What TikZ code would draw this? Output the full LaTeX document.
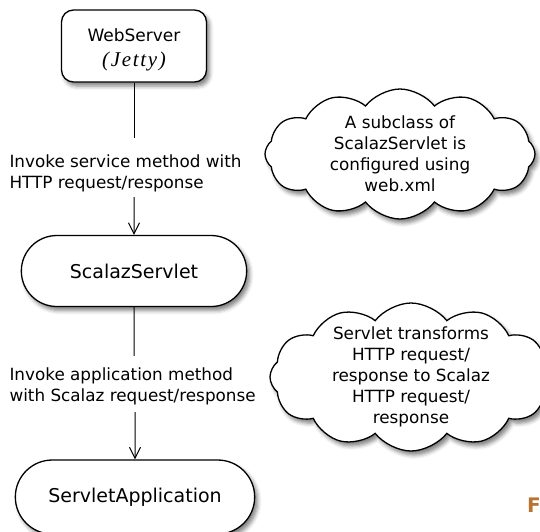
\documentclass[tikz,border=0pt]{standalone}
\usepackage{fontspec}
\setmainfont{DejaVu Sans}
\newfontfamily\jettyfont{Liberation Serif}[LetterSpace=8]
\usepackage{tikz}
\usetikzlibrary{shapes.misc,shapes.symbols,shadows.blur,arrows.meta}

\definecolor{figorange}{RGB}{184,115,51}
\tikzset{
	shadowed/.style={draw,line width=1.3pt,fill=white,
		blur shadow={shadow xshift=3pt,shadow yshift=-4pt,shadow blur radius=4pt,shadow opacity=50}},
	webbox/.style={shadowed,rounded corners=12pt,minimum width=145pt,minimum height=72pt,align=center},
	pill/.style={shadowed,rounded rectangle,font=\fontsize{19}{23}\selectfont},
	note/.style={shadowed,cloud,cloud puffs=12,cloud puff arc=105,cloud ignores aspect,
		align=center,inner sep=-30pt},
	steplabel/.style={anchor=west,align=left},
	conn/.style={line width=1pt},
	flow/.style={conn,-{Straight Barb[length=11pt,width=11pt,line width=1pt]}}
}

\begin{document}
\begin{tikzpicture}[x=1pt,y=-1pt,font=\fontsize{16.8}{21}\selectfont]
\useasboundingbox (0,0) rectangle (540,531);
\node[webbox,font=\fontsize{17}{25}\selectfont] (web) at (134,46)
	{\rule{0pt}{21pt}WebServer\\{\jettyfont\fontsize{21}{25}\selectfont\itshape (Jetty)}};
\node[steplabel] (lbl1) at (6,173) {Invoke service method with\\HTTP request/response};
\node[pill,minimum width=232pt,minimum height=71pt] (servlet) at (134,271) {ScalazServlet};
\node[steplabel] (lbl2) at (6,386) {Invoke application method\\with Scalaz request/response};
\node[pill,minimum width=246pt,minimum height=74pt] (app) at (135,497) {ServletApplication};
\node[note,minimum width=270pt,minimum height=130pt] (cfg) at (400,154)
	{A subclass of\\ScalazServlet is\\configured using\\web.xml};
\node[note,minimum width=282pt,minimum height=148pt] (xform) at (411,377)
	{Servlet transforms\\HTTP request/\\response to Scalaz\\HTTP request/\\response};
\node[text=figorange,font=\fontsize{20}{20}\selectfont\bfseries,anchor=base west,inner sep=0pt] (fig) at (527,512) {F};
% connectors
\draw[conn,shorten >=13pt] (web) -- (web |- lbl1.north);
\draw[flow,shorten <=2pt] (servlet |- lbl1.south) -- (servlet);
\draw[conn,shorten >=8pt] (servlet) -- (servlet |- lbl2.north);
\draw[flow,shorten <=4pt] (app |- lbl2.south) -- (app);
\end{tikzpicture}
\end{document}
